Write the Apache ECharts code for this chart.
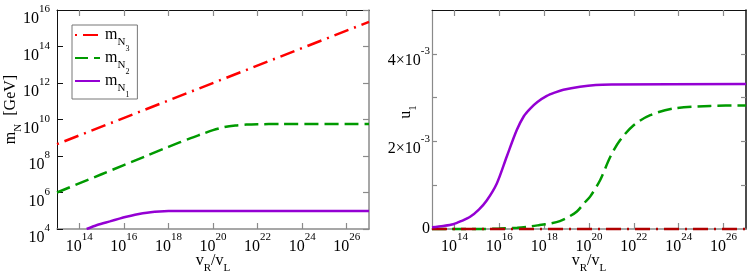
<!DOCTYPE html>
<html><head><meta charset="utf-8">
<script src="https://cdn.jsdelivr.net/npm/echarts@6/dist/echarts.min.js"></script>
<style>html,body{margin:0;padding:0;background:#fff}#c{width:747px;height:275px}</style>
</head><body><div id="c"></div>
<script>
// x axis: log10(vR/vL)
const xTickExps = [14, 16, 18, 20, 22, 24, 26];
const leftYTickExps = [4, 6, 8, 10, 12, 14, 16];
const rightYLabelVals = [0, 2e-3, 4e-3];
const rightYTickVals = [1e-3, 2e-3, 3e-3, 4e-3];

// Left panel: log10(m_N / GeV)
const mN3X = [13, 27];
const mN3Log = [8.65, 15.35];
const mN2X = [13, 15, 17, 18, 19, 19.5, 20, 20.5, 21, 21.5, 22, 23, 27];
const mN2Log = [6.0, 7.0, 8.0, 8.5, 8.98, 9.2, 9.42, 9.58, 9.67, 9.72, 9.74, 9.75, 9.75];
const mN1X = [14.33, 14.8, 15.37, 15.8, 16.11, 16.5, 16.85, 17.2, 17.6, 18, 19, 27];
const mN1Log = [4.0, 4.22, 4.42, 4.57, 4.67, 4.78, 4.86, 4.92, 4.96, 4.98, 4.99, 4.99];

// Right panel: u_1
const u3X = [13, 27];
const u3 = [0, 0];
const u2X = [13, 15, 16, 16.8, 17.4, 17.8, 18.3, 18.7, 19.1, 19.46, 19.8, 20.05, 20.5, 20.95, 21.39, 21.99, 22.73, 23.77, 25.4, 27];
const u2 = [0, 0, 0.01e-3, 0.03e-3, 0.06e-3, 0.09e-3, 0.13e-3, 0.18e-3, 0.28e-3, 0.40e-3, 0.60e-3, 0.74e-3, 1.12e-3, 1.65e-3, 2.03e-3, 2.37e-3, 2.60e-3, 2.75e-3, 2.81e-3, 2.82e-3];
const u1X = [13, 13.5, 13.95, 14.3, 14.7, 15.1, 15.44, 15.89, 16.33, 16.78, 17.1, 17.38, 17.7, 18.12, 18.5, 18.86, 19.6, 20.3, 21, 27];
const u1 = [0.04e-3, 0.07e-3, 0.11e-3, 0.18e-3, 0.28e-3, 0.45e-3, 0.65e-3, 1.04e-3, 1.65e-3, 2.26e-3, 2.58e-3, 2.75e-3, 2.90e-3, 3.04e-3, 3.12e-3, 3.18e-3, 3.25e-3, 3.29e-3, 3.30e-3, 3.31e-3];

const FONT = 'Liberation Serif';
const RED = '#ff0000', GREEN = '#009a00', PURPLE = '#9400d3';
const DARK = '#111', GRAY = '#8a8a8a';

const tickRich = {
  b: {fontFamily: FONT, fontSize: 16, lineHeight: 16, verticalAlign: 'top', padding: [7, 0, 0, 0], color: '#000'},
  s: {fontFamily: FONT, fontSize: 11, lineHeight: 11, verticalAlign: 'top', color: '#000'},
  z: {fontFamily: FONT, fontSize: 16, lineHeight: 16, color: '#000'}
};
const nameRich = {
  v: {fontFamily: FONT, fontSize: 16, lineHeight: 16, verticalAlign: 'top', color: '#000'},
  g: {fontFamily: FONT, fontSize: 16, lineHeight: 16, verticalAlign: 'top', padding: [0, 0, 0, 4], color: '#000'},
  u: {fontFamily: FONT, fontSize: 11, lineHeight: 11, verticalAlign: 'top', padding: [10, 0, 0, 0], color: '#000'}
};
const legendRich = {
  m: {fontFamily: FONT, fontSize: 16, lineHeight: 16, verticalAlign: 'top', color: '#000'},
  n: {fontFamily: FONT, fontSize: 11, lineHeight: 11, verticalAlign: 'top', padding: [10, 0, 0, 0], color: '#000'},
  s: {fontFamily: FONT, fontSize: 8, lineHeight: 8, verticalAlign: 'top', padding: [18, 0, 0, 0], color: '#000'}
};

const pair = (xs, ys) => xs.map((x, i) => [x, ys[i]]);
const expLabel = v => '{b|10}{s|' + v + '}';

function xAxes(grid) {
  return [
    {gridIndex: grid, type: 'value', min: 13, max: 27, position: 'bottom',
     axisLine: {onZero: false, lineStyle: {color: GRAY, width: 1.5}},
     axisTick: {inside: true, length: 6, customValues: xTickExps, lineStyle: {color: GRAY, width: 1.2}},
     axisLabel: {customValues: xTickExps, formatter: expLabel, rich: tickRich, margin: 3},
     splitLine: {show: false},
     name: '{v|v}{u|R}{v|/v}{u|L}', nameLocation: 'middle', nameGap: 24, nameMoveOverlap: false,
     nameTextStyle: {rich: nameRich}},
    {gridIndex: grid, type: 'value', min: 13, max: 27, position: 'top',
     axisLine: {onZero: false, lineStyle: {color: DARK, width: 1}},
     axisTick: {inside: true, length: 6, customValues: xTickExps, lineStyle: {color: GRAY, width: 1.2}},
     axisLabel: {show: false}, splitLine: {show: false}}
  ];
}

const option = {
  animation: false,
  backgroundColor: '#fff',
  grid: [
    {left: 57, top: 10, width: 312, height: 219, outerBoundsMode: 'none', containLabel: false},
    {left: 432, top: 10, width: 314, height: 219, outerBoundsMode: 'none', containLabel: false}
  ],
  legend: {
    left: 72, top: 25, orient: 'vertical', data: ['mN3', 'mN2', 'mN1'],
    itemWidth: 25, itemHeight: 14, itemGap: -3,
    borderColor: '#777', borderWidth: 1, padding: [2, 8, 0, 2],
    itemStyle: {opacity: 0},
    formatter: n => '{m|m}{n|N}{s|' + n.slice(2) + '}',
    textStyle: {rich: legendRich}
  },
  xAxis: [...xAxes(0), ...xAxes(1)],
  yAxis: [
    {gridIndex: 0, type: 'value', min: 4, max: 16, interval: 2, position: 'left',
     axisLine: {onZero: false, lineStyle: {color: DARK, width: 1}},
     axisTick: {inside: true, length: 6, lineStyle: {color: DARK, width: 1}},
     axisLabel: {formatter: expLabel, rich: tickRich, margin: 7, padding: [4, 0, 0, 0]},
     splitLine: {show: false},
     name: '{v|m}{u|N}{g| [GeV]}', nameLocation: 'middle', nameGap: 38, nameMoveOverlap: false,
     nameTextStyle: {rich: nameRich, padding: [0, 0, 0, 20]}},
    {gridIndex: 0, type: 'value', min: 4, max: 16, interval: 2, position: 'right',
     axisLine: {onZero: false, lineStyle: {color: GRAY, width: 1.5}},
     axisTick: {inside: true, length: 6, lineStyle: {color: GRAY, width: 1.2}},
     axisLabel: {show: false}, splitLine: {show: false}},
    {gridIndex: 1, type: 'value', min: 0, max: 5e-3, position: 'left',
     axisLine: {onZero: false, lineStyle: {color: GRAY, width: 1.2}},
     axisTick: {inside: true, length: 5, customValues: rightYTickVals, lineStyle: {color: GRAY, width: 1.2}},
     axisLabel: {customValues: rightYLabelVals, rich: tickRich, margin: 2,
       formatter: v => v === 0 ? '{z|0}' : '{b|' + Math.round(v * 1000) + '×10}{s|-3}'},
     splitLine: {show: false},
     name: '{v|u}{u|1}', nameLocation: 'middle', nameGap: 18, nameMoveOverlap: false,
     nameTextStyle: {rich: nameRich, padding: [0, 0, 0, 15]}},
    {gridIndex: 1, type: 'value', min: 0, max: 5e-3, position: 'right',
     axisLine: {onZero: false, lineStyle: {color: DARK, width: 1.5}},
     axisTick: {inside: true, length: 5, customValues: rightYTickVals, lineStyle: {color: GRAY, width: 1.2}},
     axisLabel: {show: false}, splitLine: {show: false}}
  ],
  series: [
    {name: 'mN3', type: 'line', xAxisIndex: 0, yAxisIndex: 0, data: pair(mN3X, mN3Log),
     symbol: 'none', color: RED, lineStyle: {color: RED, width: 2.5, type: [15, 6, 2, 6], dashOffset: 21}},
    {name: 'mN2', type: 'line', xAxisIndex: 0, yAxisIndex: 0, data: pair(mN2X, mN2Log),
     symbol: 'none', smooth: 0.3, color: GREEN, lineStyle: {color: GREEN, width: 2.5, type: [14, 6]}},
    {name: 'mN1', type: 'line', xAxisIndex: 0, yAxisIndex: 0, data: pair(mN1X, mN1Log),
     symbol: 'none', smooth: 0.3, color: PURPLE, lineStyle: {color: PURPLE, width: 2.5}},
    {name: 'u2', type: 'line', xAxisIndex: 2, yAxisIndex: 2, data: pair(u2X, u2), clip: false,
     symbol: 'none', smooth: 0.3, color: GREEN, lineStyle: {color: GREEN, width: 2.5, type: [14, 6]}},
    {name: 'u3', type: 'line', xAxisIndex: 2, yAxisIndex: 2, data: pair(u3X, u3), clip: false,
     symbol: 'none', color: '#b00000', lineStyle: {color: '#b00000', width: 2.5, type: [15, 6, 2, 6]}},
    {name: 'u1', type: 'line', xAxisIndex: 2, yAxisIndex: 2, data: pair(u1X, u1), clip: false,
     symbol: 'none', smooth: 0.3, color: PURPLE, lineStyle: {color: PURPLE, width: 2.5}}
  ]
};
const chart = echarts.init(document.getElementById('c'), null, {renderer: 'canvas'});
chart.setOption(option);
</script></body></html>
